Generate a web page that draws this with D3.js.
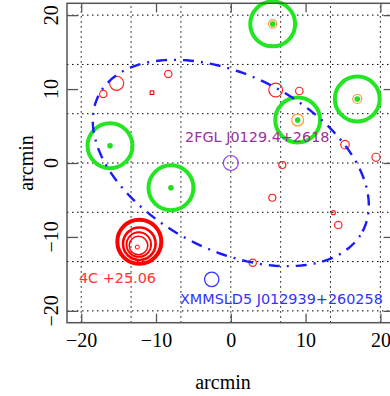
<!DOCTYPE html>
<html>
<head>
<meta charset="utf-8">
<script src="https://cdn.jsdelivr.net/npm/d3@7"></script>
<style>
  html, body { margin: 0; padding: 0; background: #fff; }
  svg { display: block; }
</style>
</head>
<body>
<svg id="chart" width="390" height="396"></svg>
<script>
// ---------- data (arcmin offsets) ----------
const xTicks = [-20, -10, 0, 10, 20];
const yTicks = [-20, -10, 0, 10, 20];
const gridValues = [-20, -13.333, -6.667, 0, 6.667, 13.333, 20];

// green error circles (x, y, radius)
const greenX = [5.60, 16.91, 8.94, -16.15, -8.00];
const greenY = [18.81, 8.66, 5.82, 2.34, -3.34];
const greenR = [3.0, 3.0, 3.0, 3.0, 3.0];

// orange rings around three of the green positions
const orangeX = [5.60, 16.91, 8.94];
const orangeY = [18.81, 8.66, 5.82];
const orangeR = [0.55, 0.6, 0.8];

// small red sources
const redX = [-17.05, -15.26, -8.36, 6.00, 9.16, 15.27, 19.41, 6.89, 5.55, 13.71, 14.37, 2.93];
const redY = [9.34, 10.78, 12.04, 9.88, 9.74, 2.48, 0.77, -0.27, -4.70, -6.72, -8.39, -13.49];
const redR = [0.49, 0.94, 0.49, 0.92, 0.5, 0.57, 0.54, 0.47, 0.47, 0.27, 0.5, 0.49];

// red square source
const squareX = [-10.54];
const squareY = [9.51];

// 4C +25.06 rings
const ringX = [-12.23, -12.23, -12.30, -12.34, -12.50];
const ringY = [-10.65, -10.92, -11.03, -11.16, -11.37];
const ringR = [2.94, 2.18, 1.64, 1.24, 0.27];

// 2FGL position and XMMSLD5 position
const fglPos = [0, 0, 1.0];
const xmmPos = [-2.55, -15.74, 0.96];

// 2FGL error ellipse: centre x, centre y, semi-major, semi-minor, angle (deg)
const ellipseParams = [0, 0, 19.9, 11.8, -27.7];

// labels: text, anchor x, anchor y (arcmin)
const labelTexts = ["2FGL J0129.4+2618", "4C +25.06", "XMMSLD5 J012939+260258"];
const labelX = [-6.12, -20.3, -6.79];
const labelY = [2.88, -16.17, -19.08];
const labelColors = ["#993399", "#ff3333", "#3333ff"];

const axisTitle = "arcmin";

// ---------- drawing ----------
const svg = d3.select("#chart");
const x = d3.scaleLinear().domain([-21.9, 21.9]).range([67, 394.6]);
const y = d3.scaleLinear().domain([-21.6, 21.6]).range([322.7, 3.3]);
const pxPerUnit = x(1) - x(0);
const frameColor = "#555";
const serif = "'Liberation Serif', 'Times New Roman', serif";
const sans = "'DejaVu Sans', sans-serif";

// grid
const grid = svg.append("g").attr("stroke", "#000").attr("stroke-width", 1)
  .attr("stroke-dasharray", "1.5,3.5").attr("fill", "none");
grid.selectAll("line.v").data(gridValues).join("line").attr("class", "v")
  .attr("x1", d => x(d)).attr("x2", d => x(d))
  .attr("y1", y.range()[0]).attr("y2", y.range()[1]);
grid.selectAll("line.h").data(gridValues).join("line").attr("class", "h")
  .attr("y1", d => y(d)).attr("y2", d => y(d))
  .attr("x1", x.range()[0]).attr("x2", x.range()[1]);

// green circles
const greenData = greenX.map((d, i) => ({x: d, y: greenY[i], r: greenR[i]}));
svg.append("g").selectAll("circle").data(greenData).join("circle")
  .attr("cx", d => x(d.x)).attr("cy", d => y(d.y)).attr("r", d => d.r * pxPerUnit)
  .attr("fill", "none").attr("stroke", "#22e622").attr("stroke-width", 4);

// orange rings
const orangeData = orangeX.map((d, i) => ({x: d, y: orangeY[i], r: orangeR[i]}));
svg.append("g").selectAll("circle").data(orangeData).join("circle")
  .attr("cx", d => x(d.x)).attr("cy", d => y(d.y)).attr("r", d => d.r * pxPerUnit)
  .attr("fill", "none").attr("stroke", "#ff9933").attr("stroke-width", 1.2);

// green dots
svg.append("g").selectAll("circle").data(greenData).join("circle")
  .attr("cx", d => x(d.x)).attr("cy", d => y(d.y)).attr("r", 2.8)
  .attr("fill", "#22dd22");

// red small sources
const redData = redX.map((d, i) => ({x: d, y: redY[i], r: redR[i]}));
svg.append("g").selectAll("circle").data(redData).join("circle")
  .attr("cx", d => x(d.x)).attr("cy", d => y(d.y)).attr("r", d => d.r * pxPerUnit)
  .attr("fill", "none").attr("stroke", "#ff2222").attr("stroke-width", 1.2);

// red square
svg.append("g").selectAll("rect").data(squareX.map((d, i) => ({x: d, y: squareY[i]}))).join("rect")
  .attr("x", d => x(d.x) - 1.8).attr("y", d => y(d.y) - 1.8)
  .attr("width", 3.6).attr("height", 3.6)
  .attr("fill", "none").attr("stroke", "#ff0000").attr("stroke-width", 1.1);

// 4C rings
const ringWidths = [4, 2.6, 1.9, 1.5, 1];
const ringData = ringX.map((d, i) => ({x: d, y: ringY[i], r: ringR[i], w: ringWidths[i]}));
svg.append("g").selectAll("circle").data(ringData).join("circle")
  .attr("cx", d => x(d.x)).attr("cy", d => y(d.y)).attr("r", d => d.r * pxPerUnit)
  .attr("fill", "none").attr("stroke", "#ff0000").attr("stroke-width", d => d.w);

// 2FGL circle
svg.append("circle")
  .attr("cx", x(fglPos[0])).attr("cy", y(fglPos[1])).attr("r", fglPos[2] * pxPerUnit)
  .attr("fill", "none").attr("stroke", "#9a44ee").attr("stroke-width", 1.2);

// XMM circle
svg.append("circle")
  .attr("cx", x(xmmPos[0])).attr("cy", y(xmmPos[1])).attr("r", xmmPos[2] * pxPerUnit)
  .attr("fill", "none").attr("stroke", "#3333ff").attr("stroke-width", 1.3);

// ellipse
const [ecx, ecy, ea, eb, eang] = ellipseParams;
const phi = eang * Math.PI / 180;
const ellPts = d3.range(0, 361, 2).map(t => {
  const tr = t * Math.PI / 180;
  const u = ea * Math.cos(tr), v = eb * Math.sin(tr);
  return [ecx + u * Math.cos(phi) - v * Math.sin(phi), ecy + u * Math.sin(phi) + v * Math.cos(phi)];
});
svg.append("path")
  .attr("d", d3.line().x(d => x(d[0])).y(d => y(d[1]))(ellPts))
  .attr("fill", "none").attr("stroke", "#1a1aff").attr("stroke-width", 2.4)
  .attr("stroke-dasharray", "11,7,2,7");

// labels
svg.append("g").selectAll("text").data(labelTexts).join("text")
  .attr("x", (d, i) => x(labelX[i])).attr("y", (d, i) => y(labelY[i]))
  .attr("fill", (d, i) => labelColors[i])
  .attr("font-family", sans).attr("font-size", 14.4)
  .text(d => d);

// axes (inward ticks)
const axBottom = svg.append("g").attr("transform", `translate(0,${y.range()[0]})`)
  .call(d3.axisBottom(x).tickValues(xTicks).tickSize(-9).tickPadding(10).tickFormat(d3.format("d")));
const axTop = svg.append("g").attr("transform", `translate(0,${y.range()[1]})`)
  .call(d3.axisTop(x).tickValues(xTicks).tickSize(-9).tickFormat(""));
const axLeft = svg.append("g").attr("transform", `translate(${x.range()[0]},0)`)
  .call(d3.axisLeft(y).tickValues(yTicks).tickSize(-11).tickFormat(""));
const axRight = svg.append("g").attr("transform", `translate(${x.range()[1]},0)`)
  .call(d3.axisRight(y).tickValues(yTicks).tickSize(-11).tickFormat(""));
[axBottom, axTop, axLeft, axRight].forEach(g => {
  g.select(".domain").remove();
  g.selectAll(".tick line").attr("stroke", frameColor).attr("stroke-width", 1.3);
});
axBottom.selectAll(".tick text").attr("font-family", serif).attr("font-size", 20).attr("fill", "#000");

// y tick labels rotated
svg.append("g").selectAll("text").data(yTicks).join("text")
  .attr("transform", d => `translate(58,${y(d)}) rotate(-90)`)
  .attr("text-anchor", "middle")
  .attr("font-family", serif).attr("font-size", 20).attr("fill", "#000")
  .text(d => d3.format("d")(d));

// frame
svg.append("rect")
  .attr("x", x.range()[0]).attr("y", y.range()[1])
  .attr("width", x.range()[1] - x.range()[0]).attr("height", y.range()[0] - y.range()[1])
  .attr("fill", "none").attr("stroke", frameColor).attr("stroke-width", 1.5);

// axis titles
svg.append("text").attr("x", 223).attr("y", 389).attr("text-anchor", "middle")
  .attr("font-family", serif).attr("font-size", 20).text(axisTitle);
svg.append("text").attr("transform", `translate(33,163) rotate(-90)`).attr("text-anchor", "middle")
  .attr("font-family", serif).attr("font-size", 20).text(axisTitle);
</script>
</body>
</html>
